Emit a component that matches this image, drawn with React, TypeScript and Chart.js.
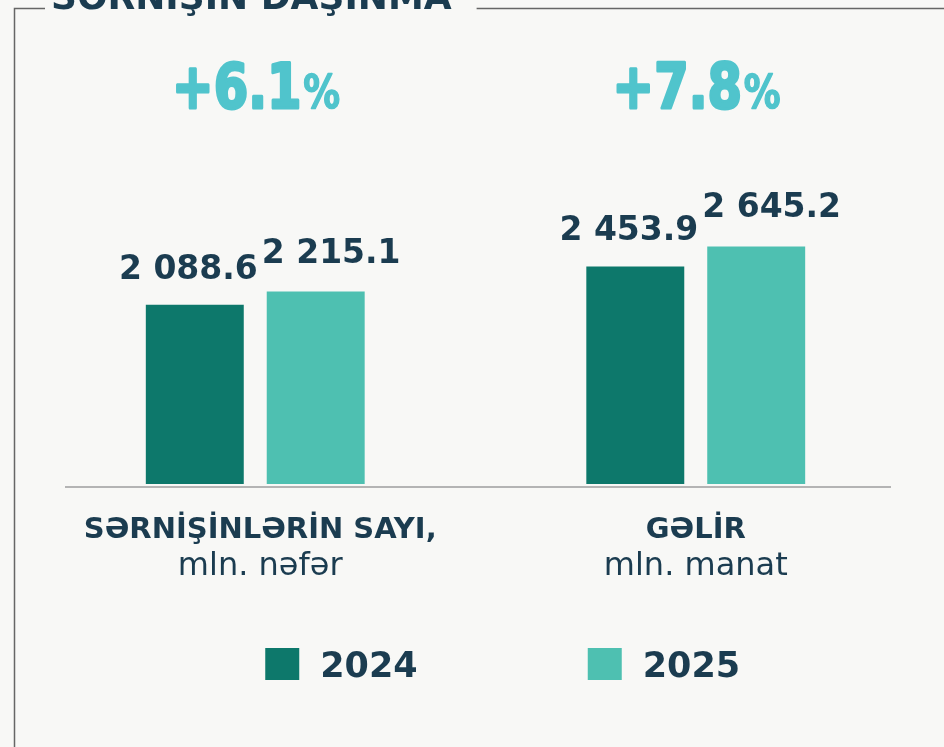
import React, { useEffect, useRef } from "react";
import { Chart, registerables } from "chart.js";

Chart.register(...registerables);

const chartTitle = "SƏRNİŞİN DAŞINMA";
const categoryTitles = ["SƏRNİŞİNLƏRİN SAYI,", "GƏLİR"];
const categoryUnits = ["mln. nəfər", "mln. manat"];
const years = ["2024", "2025"];
const values2024 = [2088.6, 2453.9];
const values2025 = [2215.1, 2645.2];
const growth = ["+6.1", "+7.8"];

const NAVY = "#1b3c50";
const DARK = "#0d786b";
const LIGHT = "#4ec0b1";
const CYAN = "#50c4cc";
const BG = "#f8f8f6";
const FONT = "'DejaVu Sans', sans-serif";

function fmt(v: number): string {
  const s = v.toFixed(1);
  const [i, d] = s.split(".");
  return i.replace(/\B(?=(\d{3})+(?!\d))/g, " ") + "." + d;
}

const overlay = {
  id: "overlay",
  afterDatasetsDraw(chart: any) {
    const ctx = chart.ctx as CanvasRenderingContext2D;
    const area = chart.chartArea;
    const xs = chart.scales.x;
    ctx.save();

    // title (clipped at the top)
    ctx.font = `bold 36px ${FONT}`;
    ctx.fillStyle = NAVY;
    ctx.textAlign = "left";
    ctx.textBaseline = "alphabetic";
    const titleX = 51;
    ctx.fillText(chartTitle, titleX, 9);
    const tw = ctx.measureText(chartTitle).width;

    // frame
    ctx.strokeStyle = "#666";
    ctx.lineWidth = 1.5;
    ctx.beginPath();
    ctx.moveTo(14.5, chart.height);
    ctx.lineTo(14.5, 8.5);
    ctx.lineTo(titleX - 6, 8.5);
    ctx.moveTo(titleX + tw + 25, 8.5);
    ctx.lineTo(chart.width, 8.5);
    ctx.stroke();

    // baseline
    ctx.strokeStyle = "#b4b4b4";
    ctx.lineWidth = 2;
    ctx.beginPath();
    ctx.moveTo(area.left + 30, area.bottom + 3);
    ctx.lineTo(area.right - 25, area.bottom + 3);
    ctx.stroke();

    // growth labels
    categoryTitles.forEach((_, j) => {
      const cx = xs.getPixelForValue(j);
      const sx = 0.8;
      ctx.font = `bold 62px ${FONT}`;
      const w1 = ctx.measureText(growth[j]).width;
      ctx.font = `bold 46px ${FONT}`;
      const w2 = ctx.measureText("%").width;
      const total = (w1 + w2) * sx;
      ctx.save();
      ctx.translate(cx - total / 2, 108);
      ctx.scale(sx, 1);
      ctx.fillStyle = CYAN;
      ctx.strokeStyle = CYAN;
      ctx.lineJoin = "round";
      ctx.textAlign = "left";
      ctx.font = `bold 62px ${FONT}`;
      ctx.lineWidth = 3;
      ctx.fillText(growth[j], 0, 0);
      ctx.strokeText(growth[j], 0, 0);
      ctx.font = `bold 46px ${FONT}`;
      ctx.lineWidth = 1.5;
      ctx.fillText("%", w1 + 2, 0);
      ctx.strokeText("%", w1 + 2, 0);
      ctx.restore();
    });

    // value labels
    chart.data.datasets.forEach((ds: any, i: number) => {
      const meta = chart.getDatasetMeta(i);
      meta.data.forEach((bar: any, j: number) => {
        const p = bar.getProps(["x", "y", "width"], true);
        ctx.font = `bold 33px ${FONT}`;
        ctx.fillStyle = NAVY;
        const txt = fmt(ds.data[j]);
        if (i === 0) {
          ctx.textAlign = "right";
          ctx.fillText(txt, p.x + p.width / 2 + 14, p.y - 26);
        } else {
          ctx.textAlign = "left";
          ctx.fillText(txt, p.x - p.width / 2 - 5, p.y - 29);
        }
      });
    });

    // category labels
    categoryTitles.forEach((t, j) => {
      const cx = xs.getPixelForValue(j) + (j === 0 ? 5 : 0);
      ctx.fillStyle = NAVY;
      ctx.textAlign = "center";
      ctx.font = `bold 29px ${FONT}`;
      ctx.fillText(t, cx, area.bottom + 54);
      ctx.font = `32px ${FONT}`;
      ctx.fillText(categoryUnits[j], cx, area.bottom + 91);
    });

    // legend
    const legendColors = [DARK, LIGHT];
    const boxLefts = [xs.getPixelForValue(0) + 10, xs.getPixelForValue(1) - 108];
    years.forEach((yr, i) => {
      const bx = boxLefts[i];
      ctx.fillStyle = legendColors[i];
      ctx.fillRect(bx, 648, 34, 32);
      ctx.fillStyle = NAVY;
      ctx.textAlign = "left";
      ctx.font = `bold 35px ${FONT}`;
      ctx.fillText(yr, bx + 55, 677);
    });

    ctx.restore();
  },
};

export default function App() {
  const ref = useRef<HTMLCanvasElement | null>(null);
  useEffect(() => {
    if (!ref.current) return;
    const chart = new Chart(ref.current, {
      type: "bar",
      data: {
        labels: categoryTitles,
        datasets: [
          { label: years[0], data: values2024, backgroundColor: DARK },
          { label: years[1], data: values2025, backgroundColor: LIGHT },
        ],
      },
      options: {
        animation: false,
        responsive: false,
        maintainAspectRatio: false,
        devicePixelRatio: 1,
        layout: { padding: { left: 35, right: 28, top: 140, bottom: 263 } },
        datasets: {
          bar: { categoryPercentage: 0.549, barPercentage: 0.81 },
        },
        plugins: {
          legend: { display: false },
          tooltip: { enabled: false },
        },
        scales: {
          x: { display: false, grid: { display: false } },
          y: { display: false, min: 380, max: 3660, grid: { display: false } },
        },
      },
      plugins: [overlay],
    });
    return () => chart.destroy();
  }, []);
  return (
    <div
      style={{
        position: "fixed",
        left: 0,
        top: 0,
        width: 944,
        height: 747,
        background: BG,
      }}
    >
      <canvas ref={ref} width={944} height={747} style={{ width: 944, height: 747, display: "block" }} />
    </div>
  );
}
